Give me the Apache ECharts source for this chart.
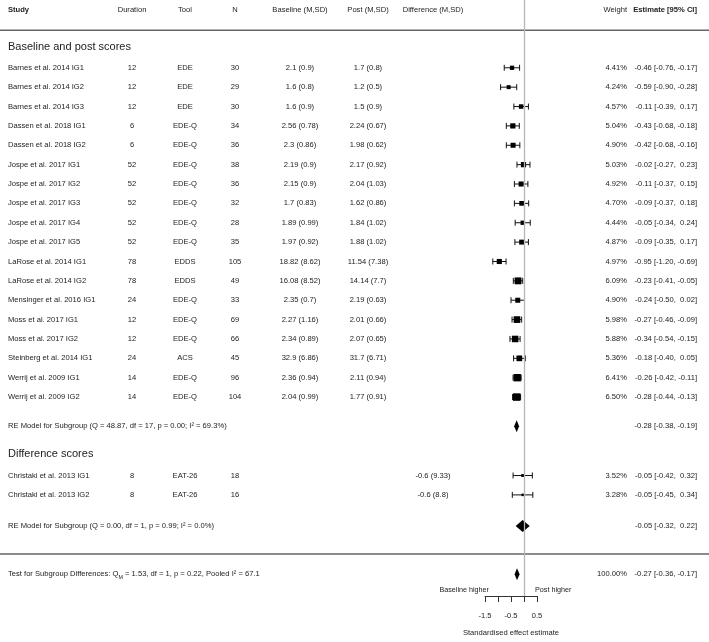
<!DOCTYPE html>
<html>
<head>
<meta charset="utf-8">
<script src="https://cdn.jsdelivr.net/npm/echarts@6/dist/echarts.min.js"></script>
<style>
html, body { margin: 0; padding: 0; background: #fff; }
#main { width: 709px; height: 642px; }
</style>
</head>
<body>
<div id="main"></div>
<script>
// study level data
const studies = [
  'Barnes et al. 2014 IG1', 'Barnes et al. 2014 IG2', 'Barnes et al. 2014 IG3',
  'Dassen et al. 2018 IG1', 'Dassen et al. 2018 IG2',
  'Jospe et al. 2017 IG1', 'Jospe et al. 2017 IG2', 'Jospe et al. 2017 IG3', 'Jospe et al. 2017 IG4', 'Jospe et al. 2017 IG5',
  'LaRose et al. 2014 IG1', 'LaRose et al. 2014 IG2', 'Mensinger et al. 2016 IG1',
  'Moss et al. 2017 IG1', 'Moss et al. 2017 IG2', 'Steinberg et al. 2014 IG1',
  'Werrij et al. 2009 IG1', 'Werrij et al. 2009 IG2',
  'Christaki et al. 2013 IG1', 'Christaki et al. 2013 IG2'
];
const subgroup = [0,0,0,0,0,0,0,0,0,0,0,0,0,0,0,0,0,0,1,1];
const duration = [12,12,12,6,6,52,52,52,52,52,78,78,24,12,12,24,14,14,8,8];
const tools = ['EDE','EDE','EDE','EDE-Q','EDE-Q','EDE-Q','EDE-Q','EDE-Q','EDE-Q','EDE-Q',
  'EDDS','EDDS','EDE-Q','EDE-Q','EDE-Q','ACS','EDE-Q','EDE-Q','EAT-26','EAT-26'];
const sampleN = [30,29,30,34,36,38,36,32,28,35,105,49,33,69,66,45,96,104,18,16];
const baseM  = [2.1,1.6,1.6,2.56,2.3,2.19,2.15,1.7,1.89,1.97,18.82,16.08,2.35,2.27,2.34,32.9,2.36,2.04,null,null];
const baseSD = [0.9,0.8,0.9,0.78,0.86,0.9,0.9,0.83,0.99,0.92,8.62,8.52,0.7,1.16,0.89,6.86,0.94,0.99,null,null];
const postM  = [1.7,1.2,1.5,2.24,1.98,2.17,2.04,1.62,1.84,1.88,11.54,14.14,2.19,2.01,2.07,31.7,2.11,1.77,null,null];
const postSD = [0.8,0.5,0.9,0.67,0.62,0.92,1.03,0.86,1.02,1.02,7.38,7.7,0.63,0.66,0.65,6.71,0.94,0.91,null,null];
const diffM  = [null,null,null,null,null,null,null,null,null,null,null,null,null,null,null,null,null,null,-0.6,-0.6];
const diffSD = [null,null,null,null,null,null,null,null,null,null,null,null,null,null,null,null,null,null,9.33,8.8];
const weights = [4.41,4.24,4.57,5.04,4.90,5.03,4.92,4.70,4.44,4.87,4.97,6.09,4.90,5.98,5.88,5.36,6.41,6.50,3.52,3.28];
const estimate = [-0.46,-0.59,-0.11,-0.43,-0.42,-0.02,-0.11,-0.09,-0.05,-0.09,-0.95,-0.23,-0.24,-0.27,-0.34,-0.18,-0.26,-0.28,-0.05,-0.05];
const ciLow  = [-0.76,-0.90,-0.39,-0.68,-0.68,-0.27,-0.37,-0.37,-0.34,-0.35,-1.20,-0.41,-0.50,-0.46,-0.54,-0.40,-0.42,-0.44,-0.42,-0.45];
const ciHigh = [-0.17,-0.28,0.17,-0.18,-0.16,0.23,0.15,0.18,0.24,0.17,-0.69,-0.05,0.02,-0.09,-0.15,0.05,-0.11,-0.13,0.32,0.34];

// pooled estimates
const subgroupNames = ['Baseline and post scores', 'Difference scores'];
const summaryText = [
  'RE Model for Subgroup (Q = 48.87, df = 17, p = 0.00; I² = 69.3%)',
  'RE Model for Subgroup (Q = 0.00, df = 1, p = 0.99; I² = 0.0%)',
  '{t|Test for Subgroup Differences: Q}{sub|M}{t| = 1.53, df = 1, p = 0.22, Pooled I² = 67.1}'
];
const summaryWeight = [null, null, 100];
const summaryEst  = [-0.28, -0.05, -0.27];
const summaryLow  = [-0.38, -0.32, -0.36];
const summaryHigh = [-0.19, 0.22, -0.17];

const headers = ['Study', 'Duration', 'Tool', 'N', 'Baseline (M,SD)', 'Post (M,SD)', 'Difference (M,SD)', 'Weight', 'Estimate [95% CI]'];
const sideLabels = ['Baseline higher', 'Post higher'];

// layout (row units, top to bottom)
const headerRow = 0.5, topLineRow = 1.56, bottomLineRow = 28.6, sideRow = 30.45, axisRow = 30.77;
const groupHeadRow = [2.42, 23.45];
const groupFirstRow = [3.5, 24.55];
const summaryRow = [22, 27.15, 29.65];
const colX = [8, 132, 185, 235, 300, 368, 433, 627, 697];
const colAlign = ['left', 'center', 'center', 'center', 'center', 'center', 'center', 'right', 'right'];

const FONT = '"Liberation Sans", Arial, sans-serif';
const f = (size, bold) => (bold ? 'bold ' : '') + size + 'px ' + FONT;
const TXT = '#222';

const ms = (m, s) => m === null ? '' : String(m) + ' (' + String(s) + ')';
const pad = v => (v >= 0 ? ' ' : '') + v.toFixed(2);
const ci = (e, lo, hi) => e.toFixed(2) + ' [' + lo.toFixed(2) + ', ' + pad(hi) + ']';

const studyRow = [];
const counters = [0, 0];
subgroup.forEach(g => { studyRow.push(groupFirstRow[g] + counters[g]); counters[g]++; });

// table rows for the custom text series
const tableRows = [];
tableRows.push({ y: headerRow, kind: 'header' });
tableRows.push({ y: topLineRow, kind: 'rule' });
tableRows.push({ y: bottomLineRow, kind: 'rule' });
subgroupNames.forEach((name, g) => tableRows.push({ y: groupHeadRow[g], kind: 'group', text: name }));
studies.forEach((s, i) => tableRows.push({
  y: studyRow[i], kind: 'study',
  cells: [s, String(duration[i]), tools[i], String(sampleN[i]), ms(baseM[i], baseSD[i]), ms(postM[i], postSD[i]),
    ms(diffM[i], diffSD[i]), weights[i].toFixed(2) + '%', ci(estimate[i], ciLow[i], ciHigh[i])]
}));
summaryText.forEach((t, k) => tableRows.push({
  y: summaryRow[k], kind: 'summary', text: t,
  weight: summaryWeight[k] === null ? '' : summaryWeight[k].toFixed(2) + '%',
  est: ci(summaryEst[k], summaryLow[k], summaryHigh[k])
}));
tableRows.push({ y: sideRow, kind: 'side' });

const wMin = Math.min(...weights), wMax = Math.max(...weights);

const chart = echarts.init(document.getElementById('main'), null, { renderer: 'canvas' });

function renderTable(params, api) {
  const r = tableRows[params.dataIndex];
  const py = api.coord([0, r.y])[1];
  const children = [];
  const txt = (x, text, align, font, extra) => ({
    type: 'text', x: x, y: py,
    style: Object.assign({ text: text, fill: TXT, font: font, align: align, verticalAlign: 'middle' }, extra || {})
  });
  if (r.kind === 'rule') {
    children.push({ type: 'line', shape: { x1: 0, y1: py, x2: api.getWidth(), y2: py }, style: { stroke: '#666', lineWidth: 1.5 } });
  } else if (r.kind === 'header') {
    headers.forEach((h, c) => children.push(txt(colX[c], h, colAlign[c], f(7.6, c === 0 || c === 8))));
  } else if (r.kind === 'group') {
    children.push(txt(colX[0], r.text, 'left', f(11)));
  } else if (r.kind === 'study') {
    r.cells.forEach((s, c) => { if (s) children.push(txt(colX[c], s, colAlign[c], f(7.6))); });
  } else if (r.kind === 'summary') {
    children.push(txt(colX[0], r.text, 'left', f(7.6), {
      rich: {
        t: { font: f(7.6), fill: TXT, lineHeight: 12 },
        sub: { font: f(5.4), fill: TXT, lineHeight: 6, verticalAlign: 'bottom' }
      }
    }));
    if (r.weight) children.push(txt(colX[7], r.weight, 'right', f(7.6)));
    children.push(txt(colX[8], r.est, 'right', f(7.6)));
  } else if (r.kind === 'side') {
    const x0 = api.coord([0, r.y])[0];
    children.push(txt(x0 - 35, sideLabels[0], 'right', f(7.2)));
    children.push(txt(x0 + 11, sideLabels[1], 'left', f(7.2)));
  }
  return { type: 'group', children: children };
}

function renderStudy(params, api) {
  const y = api.value(1);
  const pl = api.coord([api.value(2), y]);
  const ph = api.coord([api.value(3), y]);
  const pe = api.coord([api.value(0), y]);
  const size = 5 * (0.5 + (api.value(4) - wMin) / (wMax - wMin));
  const ln = { stroke: '#111', lineWidth: 1 };
  return {
    type: 'group',
    children: [
      { type: 'line', shape: { x1: pl[0], y1: pl[1], x2: ph[0], y2: ph[1] }, style: ln },
      { type: 'line', shape: { x1: pl[0], y1: pl[1] - 3, x2: pl[0], y2: pl[1] + 3 }, style: ln },
      { type: 'line', shape: { x1: ph[0], y1: ph[1] - 3, x2: ph[0], y2: ph[1] + 3 }, style: ln },
      { type: 'rect', shape: { x: pe[0] - size / 2, y: pe[1] - size / 2, width: size, height: size }, style: { fill: '#000' } }
    ]
  };
}

function renderDiamond(params, api) {
  const y = api.value(1);
  const pe = api.coord([api.value(0), y]);
  const pl = api.coord([api.value(2), y]);
  const ph = api.coord([api.value(3), y]);
  return {
    type: 'polygon',
    shape: { points: [[pl[0], pl[1]], [pe[0], pe[1] - 6], [ph[0], ph[1]], [pe[0], pe[1] + 6]] },
    style: { fill: '#000' }
  };
}

chart.setOption({
  animation: false,
  backgroundColor: '#fff',
  grid: { left: 485, right: 172, top: 0, bottom: 42 },
  xAxis: {
    type: 'value', min: -1.5, max: 0.5, interval: 0.5, position: 'bottom',
    axisLine: { show: true, onZero: false, lineStyle: { color: '#333', width: 1 } },
    axisTick: { show: true, length: 6, lineStyle: { color: '#333', width: 1 } },
    axisLabel: {
      margin: 16, color: TXT, fontSize: 7.5, fontFamily: FONT,
      formatter: v => (v === -1 || v === 0) ? '' : String(v)
    },
    splitLine: { show: false },
    name: 'Standardised effect estimate', nameLocation: 'middle', nameGap: 33,
    nameTextStyle: { color: TXT, fontSize: 7.6, fontFamily: FONT }
  },
  yAxis: {
    type: 'value', inverse: true, min: 0, max: axisRow, show: false
  },
  series: [
    {
      type: 'custom', name: 'table', z: 1, silent: true,
      data: tableRows.map(r => [0, r.y]),
      renderItem: renderTable,
      markLine: {
        silent: true, symbol: 'none', label: { show: false },
        lineStyle: { color: '#b5b5b5', width: 1.3, type: 'solid' },
        data: [{ xAxis: 0 }]
      }
    },
    {
      type: 'custom', name: 'studies', z: 3, silent: true,
      data: studies.map((s, i) => [estimate[i], studyRow[i], ciLow[i], ciHigh[i], weights[i]]),
      renderItem: renderStudy
    },
    {
      type: 'custom', name: 'pooled', z: 3, silent: true,
      data: summaryEst.map((e, k) => [e, summaryRow[k], summaryLow[k], summaryHigh[k]]),
      renderItem: renderDiamond
    }
  ]
});
</script>
</body>
</html>
